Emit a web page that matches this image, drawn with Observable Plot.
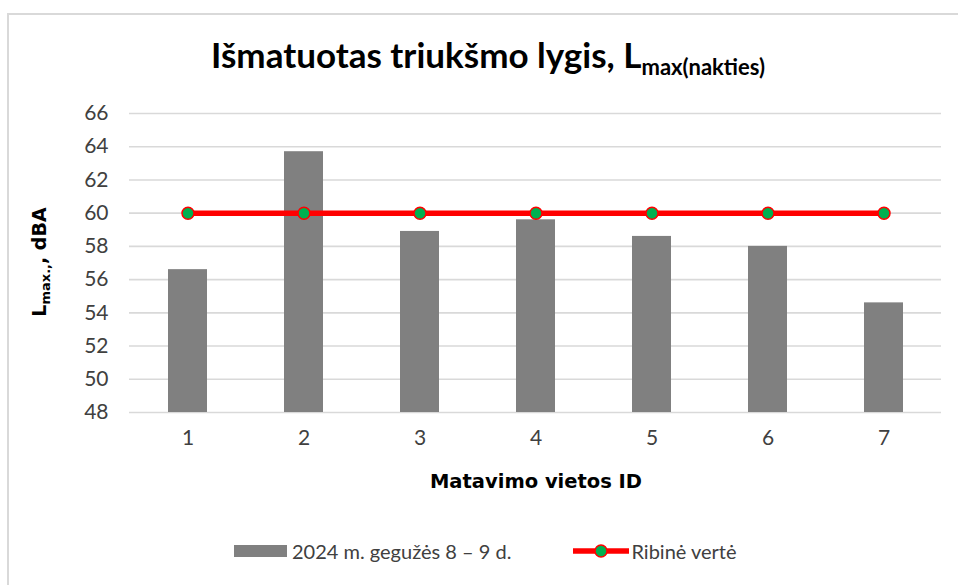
<!DOCTYPE html>
<html>
<head>
<meta charset="utf-8">
<script src="https://cdn.jsdelivr.net/npm/d3@7"></script>
<script src="https://cdn.jsdelivr.net/npm/@observablehq/plot@0.6"></script>
<style>
  html, body { margin: 0; padding: 0; background: #fff; }
  #wrap { position: relative; width: 958px; height: 585px; overflow: hidden; background: #fff; }
  #frame { position: absolute; left: 7px; top: 13px; width: 1000px; height: 700px;
           border-left: 2px solid #d9d9d9; border-top: 2px solid #d9d9d9; box-sizing: border-box; }
  #title { position: absolute; left: 0; width: 976px; top: 33px; text-align: center;
           font-family: Lato, "Noto Sans", sans-serif; font-weight: 700; font-size: 35px; color: #000; }
  #title sub { font-size: 22px; vertical-align: -7px; }
  #xlabel { position: absolute; left: 0; width: 1072px; top: 470px; text-align: center;
            font-family: "DejaVu Sans", sans-serif; font-weight: 700; font-size: 19.5px; color: #000; }
  #ylabel { position: absolute; left: 40px; top: 262px; transform: translate(-50%, -50%) rotate(-90deg);
            white-space: nowrap; font-family: "DejaVu Sans", sans-serif; font-weight: 700; font-size: 19px; color: #000; }
  #ylabel sub { font-size: 13px; vertical-align: -4px; }
  #legend { position: absolute; top: 539px; left: 234px; display: flex; align-items: center;
            font-family: Lato, "Noto Sans", sans-serif; font-size: 20px; color: #404040; }
  #legend .item { display: flex; align-items: center; }
  #plot { position: absolute; left: 0; top: 0; }
</style>
</head>
<body>
<div id="wrap">
  <div id="frame"></div>
  <div id="plot"></div>
  <div id="title">Išmatuotas triukšmo lygis, L<sub>max(nakties)</sub></div>
  <div id="xlabel">Matavimo vietos ID</div>
  <div id="ylabel">L<sub>max.,</sub>, dBA</div>
  <div id="legend"></div>
</div>
<script>
// Data
const locations = ["1", "2", "3", "4", "5", "6", "7"];
const measured = [56.6, 63.7, 58.9, 59.6, 58.6, 58.0, 54.6];
const limitValues = [60, 60, 60, 60, 60, 60, 60];
const yTicks = [48, 50, 52, 54, 56, 58, 60, 62, 64, 66];
const seriesNames = ["2024 m. gegužės 8 – 9 d.", "Ribinė vertė"];

const bars = locations.map((id, i) => ({id, value: measured[i]}));
const limit = locations.map((id, i) => ({id, value: limitValues[i]}));

const chart = Plot.plot({
  width: 958,
  height: 585,
  marginLeft: 129,
  marginRight: 17,
  marginTop: 113,
  marginBottom: 173,
  style: {fontFamily: "Lato, 'Noto Sans', sans-serif", fontSize: "21px", color: "#404040", background: "transparent"},
  x: {domain: locations, paddingInner: 0.667, paddingOuter: 0.333, label: null},
  y: {domain: [48, 66], label: null},
  marks: [
    Plot.gridY(yTicks, {stroke: "#d9d9d9", strokeOpacity: 1, strokeWidth: 1.6}),
    Plot.barY(bars, {x: "id", y1: 48, y2: "value", fill: "#808080"}),
    Plot.lineY(limit, {x: "id", y: "value", stroke: "#ff0000", strokeWidth: 5.5}),
    Plot.dot(limit, {x: "id", y: "value", r: 6, fill: "#00b050", stroke: "#ff0000", strokeWidth: 1.5}),
    Plot.axisY(yTicks, {tickSize: 0, tickPadding: 21, fill: "#404040"}),
    Plot.axisX({tickSize: 0, tickPadding: 18, fill: "#404040"})
  ]
});
document.getElementById("plot").appendChild(chart);

// Legend
const legend = document.getElementById("legend");
const it1 = document.createElement("div");
it1.className = "item";
it1.innerHTML = `<svg width="53" height="12" style="margin-right:5px"><rect x="0" y="0" width="53" height="12" fill="#808080"/></svg><span>${seriesNames[0]}</span>`;
const it2 = document.createElement("div");
it2.className = "item";
it2.style.marginLeft = "62px";
it2.innerHTML = `<svg width="56" height="14" style="margin-right:2px"><line x1="0" x2="56" y1="7" y2="7" stroke="#ff0000" stroke-width="5.5"/><circle cx="28" cy="7" r="6" fill="#00b050" stroke="#ff0000" stroke-width="1.5"/></svg><span>${seriesNames[1]}</span>`;
legend.appendChild(it1);
legend.appendChild(it2);
</script>
</body>
</html>
